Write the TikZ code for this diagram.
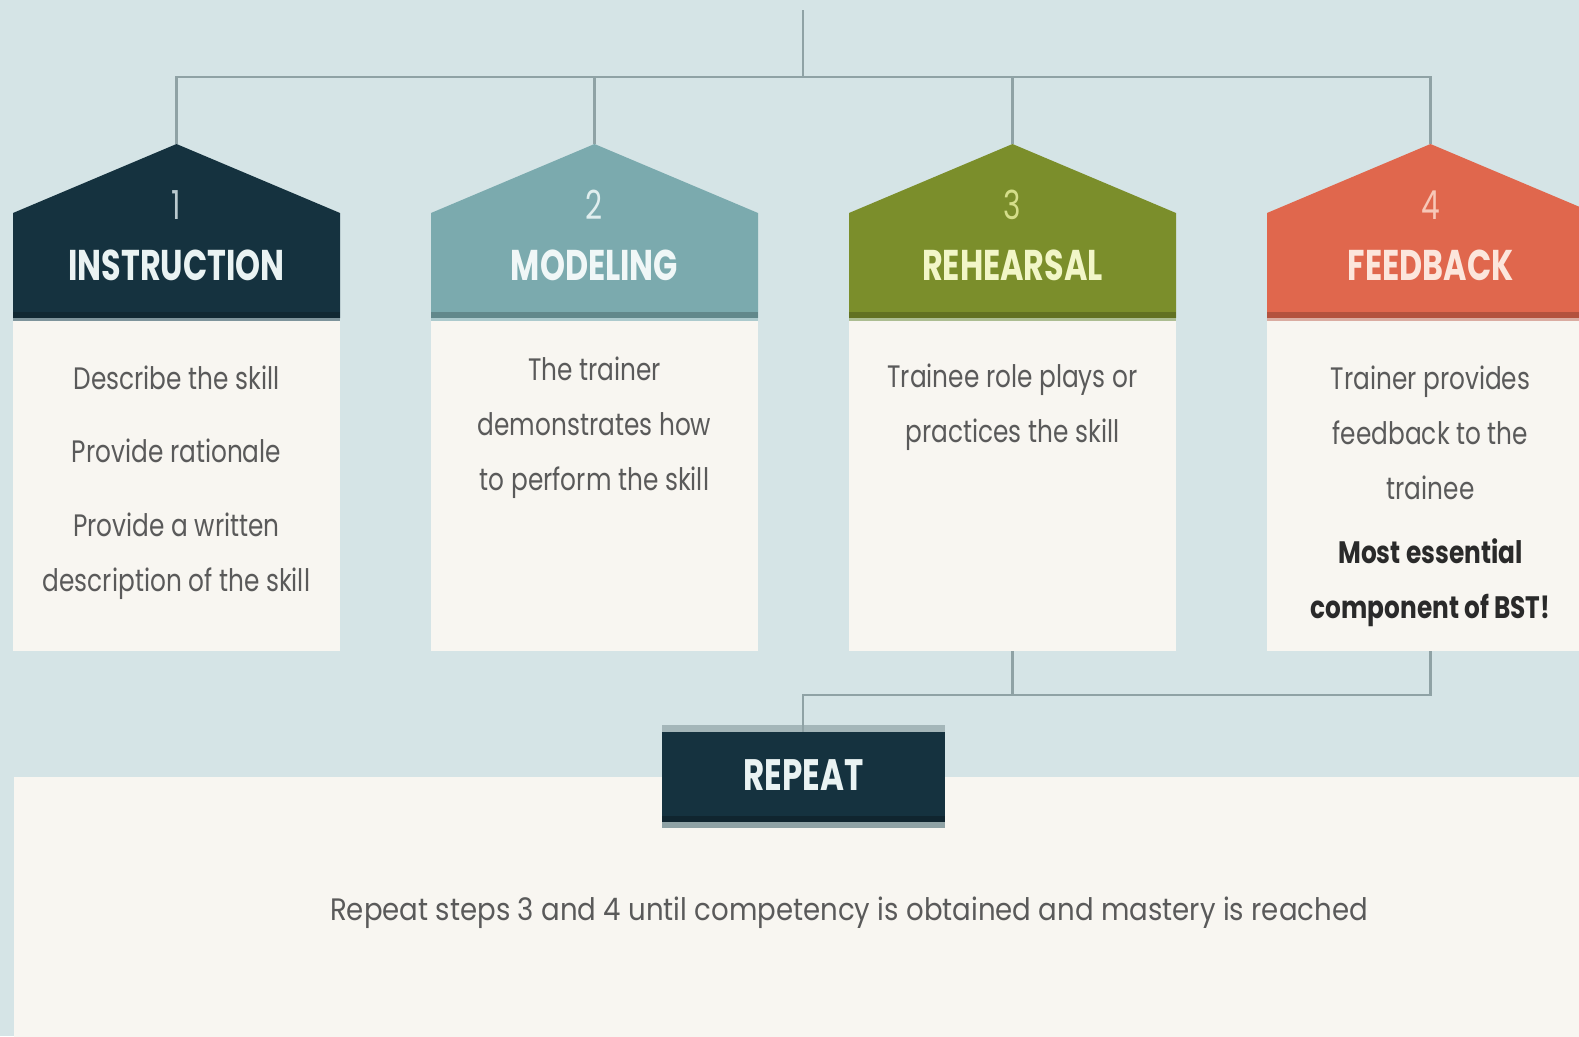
\documentclass[tikz,border=0pt]{standalone}
\usepackage{fontspec}
\setmainfont{Poppins}
\newfontfamily\bodyfont[FakeStretch=0.8]{Poppins}
\newfontfamily\widebodyfont[FakeStretch=0.89]{Poppins}
\newfontfamily\headfont[FakeStretch=0.74]{Poppins}
\definecolor{bgblue}{HTML}{D5E4E6}
\definecolor{cream}{HTML}{F8F6F1}
\definecolor{navy}{HTML}{15323F}
\definecolor{tealc}{HTML}{7BAAAE}
\definecolor{olive}{HTML}{7B8E2B}
\definecolor{coral}{HTML}{E0674D}
\definecolor{linec}{HTML}{8FA2A5}
\definecolor{bodytext}{HTML}{5A5A5A}
\definecolor{boldtext}{HTML}{2A2A2A}
\definecolor{tI}{HTML}{EAF3F3}
\definecolor{tM}{HTML}{F0F7F7}
\definecolor{tR}{HTML}{F2F6C8}
\definecolor{tF}{HTML}{FCE6DC}
\definecolor{nI}{HTML}{B9C9CE}
\definecolor{nM}{HTML}{E0EEEE}
\definecolor{nR}{HTML}{D5DE8A}
\definecolor{nF}{HTML}{F7C8B8}
\tikzset{
  conn/.style={draw=linec, line width=2.5pt},
  bodybox/.style={fill=cream, draw=none, minimum width=327pt, minimum height=330pt, inner sep=0pt},
  bodytxt/.style={font=\bodyfont\fontsize{31}{55}\selectfont, text=bodytext, align=center, inner sep=0pt},
  boldtxt/.style={font=\bodyfont\bfseries\fontsize{31}{55}\selectfont, text=boldtext, align=center, inner sep=0pt},
  titletxt/.style={font=\headfont\bfseries\fontsize{43}{50}\selectfont, anchor=base, inner sep=0pt},
  numtxt/.style={font=\headfont\fontsize{40}{46}\selectfont, anchor=base, inner sep=0pt},
}
\begin{document}
\begin{tikzpicture}[x=1pt, y=-1pt]
\clip (0,0) rectangle (1579,1036);
\fill[bgblue] (0,0) rectangle (1579,1036);
% bottom cream panel
\fill[cream] (14,777) rectangle (1600,1040);

% cards
\foreach \n/\cx/\col/\tcol/\ncol/\title in {
  1/176.5/navy/tI/nI/INSTRUCTION,
  2/594.5/tealc/tM/nM/MODELING,
  3/1012.5/olive/tR/nR/REHEARSAL,
  4/1430.5/coral/tF/nF/FEEDBACK}{
  \fill[\col] (\cx-163.5,318) -- (\cx-163.5,213) -- (\cx,144) -- (\cx+163.5,213) -- (\cx+163.5,318) -- cycle;
  \fill[\col!80!black] (\cx-163.5,312) rectangle (\cx+163.5,318);
  \fill[\col!45!bgblue] (\cx-163.5,318) rectangle (\cx+163.5,322);
  \coordinate (apex\n) at (\cx,144);
  \node[numtxt, text=\ncol] (num\n) at (\cx,219) {\n};
  \node[titletxt, text=\tcol] (title\n) at (\cx,280) {\title};
  \node[bodybox] (body\n) at (\cx,486) {};
}

% body texts
\node[bodytxt] (d1a) at (176.5,378) {Describe the skill};
\node[bodytxt] (d1b) at (176.5,451) {Provide rationale};
\node[bodytxt] (d1c) at (176.5,556.5) {Provide a written\\description of the skill};
\node[bodytxt] (d2) at (594.5,428) {The trainer\\demonstrates how\\to perform the skill};
\node[bodytxt] (d3) at (1012.5,407) {Trainee role plays or\\practices the skill};
\node[bodytxt] (d4) at (1430.5,433) {Trainer provides\\feedback to the\\trainee};
\node[boldtxt] (d4b) at (1430.5,582.5) {Most essential\\component of BST!};

% top connectors
\coordinate (top) at (803,10);
\coordinate (bus) at (803,77);
\draw[conn] (top) -- (bus);
\draw[conn] (apex1) |- (bus) -| (apex4);
\draw[conn] (apex2) -- (apex2 |- bus);
\draw[conn] (apex3) -- (apex3 |- bus);

% repeat box
\fill[linec!70!bgblue] (662,725) rectangle (945,732);
\node[fill=navy, minimum width=283pt, minimum height=90pt, inner sep=0pt, anchor=north] (rep) at (803.5,732) {};
\fill[navy!75!black] (662,816) rectangle (945,822);
\fill[linec] (662,822) rectangle (945,828);
\node[font=\headfont\bfseries\fontsize{44}{50}\selectfont, text=tI, anchor=base, inner sep=0pt] (reptxt) at (803.5,790) {REPEAT};

% bottom connectors
\coordinate (join) at (803,695);
\draw[conn] (body4.south) |- (join) -- (join |- rep.north);
\draw[conn] (body3.south) -- (body3.south |- join);

% bottom text
\node[bodytxt, font=\widebodyfont\fontsize{31}{55}\selectfont] (rtext) at (849,913) {Repeat steps 3 and 4 until competency is obtained and mastery is reached};
\end{tikzpicture}
\end{document}
